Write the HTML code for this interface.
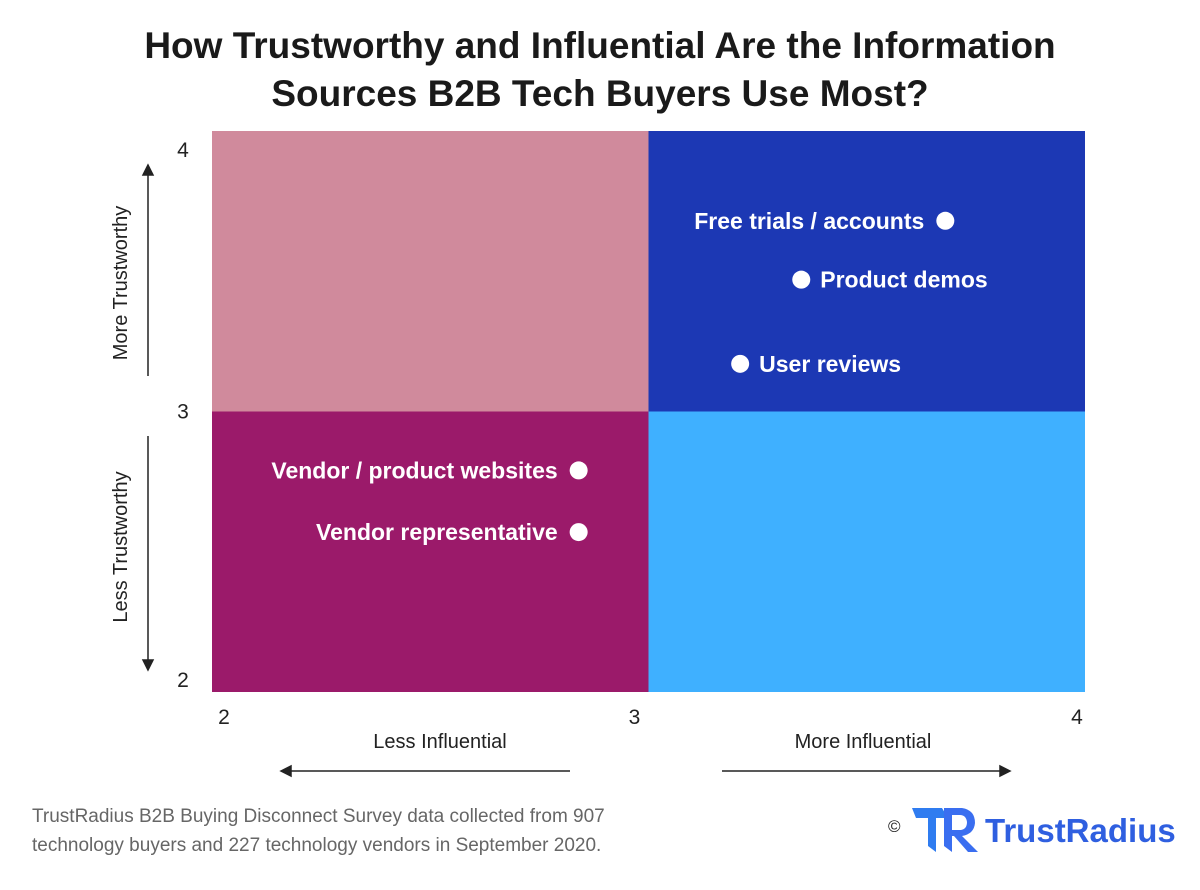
<!DOCTYPE html>
<html><head><meta charset="utf-8"><style>
body{margin:0;background:#fff;width:1200px;height:885px;overflow:hidden;font-family:"Liberation Sans",sans-serif}
</style></head><body>
<svg id="chart" width="1200" height="885" xmlns="http://www.w3.org/2000/svg">
<text x="600" y="58" text-anchor="middle" font-size="37" font-weight="bold" fill="#1a1a1a">How Trustworthy and Influential Are the Information</text>
<text x="600" y="106" text-anchor="middle" font-size="37" font-weight="bold" fill="#1a1a1a">Sources B2B Tech Buyers Use Most?</text>
<g id="quads"></g>
<g id="ticks" font-size="21" fill="#222"></g>
<g id="points"></g>
<text x="440" y="748" text-anchor="middle" font-size="20" fill="#222">Less Influential</text>
<text x="863" y="748" text-anchor="middle" font-size="20" fill="#222">More Influential</text>
<g stroke="#222" stroke-width="1.5" fill="#222">
<line x1="288" y1="771" x2="570" y2="771"/><polygon points="281,771 291,766 291,776"/>
<line x1="722" y1="771" x2="1003" y2="771"/><polygon points="1010,771 1000,766 1000,776"/>
<line x1="148" y1="172" x2="148" y2="376"/><polygon points="148,165 143,175 153,175"/>
<line x1="148" y1="436" x2="148" y2="663"/><polygon points="148,670 143,660 153,660"/>
</g>
<text transform="translate(127,283) rotate(-90)" text-anchor="middle" font-size="20" fill="#222">More Trustworthy</text>
<text transform="translate(127,547) rotate(-90)" text-anchor="middle" font-size="20" fill="#222">Less Trustworthy</text>
<text x="32" y="822" font-size="19" fill="#666">TrustRadius B2B Buying Disconnect Survey data collected from 907</text>
<text x="32" y="851" font-size="19" fill="#666">technology buyers and 227 technology vendors in September 2020.</text>
<g>
<text x="888" y="832" font-size="17" fill="#222">©</text>
<polygon points="912,808 942,808 948,818 936,818 936,852 928,846 928,818 916,818" fill="#2f7cf0"/>
<path d="M944,808 L962,808 Q975,810 975,823 Q974,834 962,836 L978,852 L968,852 L954,836 L952,836 L952,852 L944,846 Z M952,815 L952,830 L961,830 Q967,829 967,822 Q966,815 960,815 Z" fill="#3a6ef0"/>
<text x="985" y="842" font-size="33" font-weight="bold" fill="#2f5fe0">TrustRadius</text>
</g>
</svg>
<script>
const categories=["Free trials / accounts","Product demos","User reviews","Vendor / product websites","Vendor representative"];
const influence=[3.68,3.35,3.21,2.84,2.84];
const trust=[3.68,3.47,3.17,2.79,2.57];
const labelSide=["left","right","right","left","left"];
const xTicks=[2,3,4];
const yTicks=[2,3,4];
const X0=212,X1=1085,Y0=131,Y1=692;
const xs=v=>X0+(v-2)/2*(X1-X0);
const ys=v=>Y1-(v-2)/2*(Y1-Y0);
const NS="http://www.w3.org/2000/svg";
function mk(t,a,p){const e=document.createElementNS(NS,t);for(const k in a)e.setAttribute(k,a[k]);p.appendChild(e);return e;}
const quads=document.getElementById('quads');
const qd=[[2,3,3,4,"#d08a9c","quadrant-top-left"],[3,4,3,4,"#1c38b4","quadrant-top-right"],[2,3,2,3,"#9b1a6a","quadrant-bottom-left"],[3,4,2,3,"#3fb0ff","quadrant-bottom-right"]];
qd.forEach(q=>{const r=mk('rect',{x:xs(q[0]),y:ys(q[3]),width:xs(q[1])-xs(q[0]),height:ys(q[2])-ys(q[3]),fill:q[4]},quads);

});
const tk=document.getElementById('ticks');
xTicks.forEach((v,i)=>{const t=mk('text',{x:xs(v)+(i==0?12:i==2?-8:-14),y:724,'text-anchor':'middle'},tk);t.textContent=v;

});
yTicks.forEach(v=>{const t=mk('text',{x:183,y:ys(v)+(v==4?19:v==2?-12:0)+7,'text-anchor':'middle'},tk);t.textContent=v;

});
const pts=document.getElementById('points');
categories.forEach((c,i)=>{const cx=xs(influence[i]),cy=ys(trust[i]);
const g=mk('g',{},pts);


mk('circle',{cx:cx,cy:cy,r:9,fill:'#fff'},g);
const t=mk('text',{x:labelSide[i]=='left'?cx-21:cx+19,y:cy+8,'text-anchor':labelSide[i]=='left'?'end':'start','font-size':23,'font-weight':'bold',fill:'#fff'},g);
t.textContent=c;});
</script>
</body></html>
